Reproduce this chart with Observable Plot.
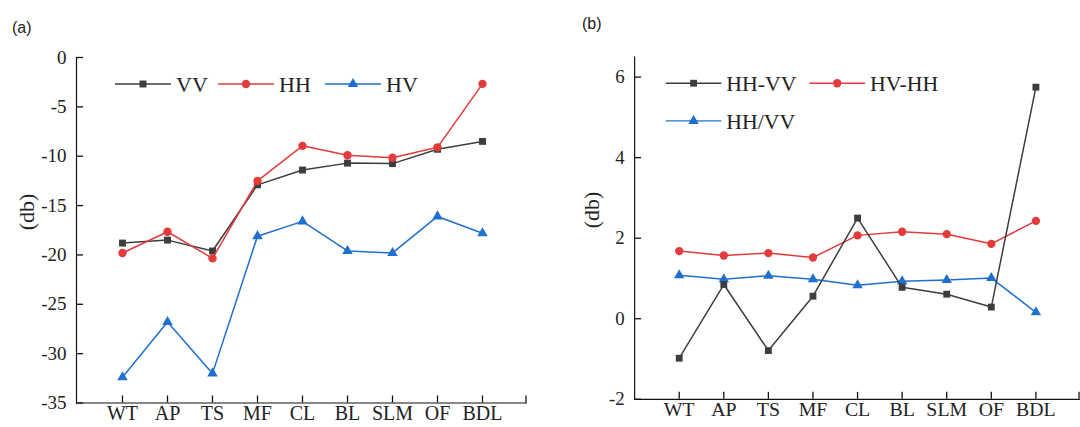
<!DOCTYPE html>
<html><head><meta charset="utf-8">
<script src="https://cdn.jsdelivr.net/npm/d3@7"></script>
<script src="https://cdn.jsdelivr.net/npm/@observablehq/plot@0.6"></script>
<style>
body{margin:0;background:#fff;}
#wrap{position:relative;width:1080px;height:427px;overflow:hidden;background:#fff;}
#a,#b{position:absolute;top:0;line-height:0;}
#a{left:0}#b{left:540px}
svg{display:block}
.plab{position:absolute;font-family:"Liberation Sans",Arial,sans-serif;font-size:16px;color:#222;line-height:1}
</style></head><body>
<div id="wrap"><div id="a"></div><div id="b"></div>
<div class="plab" style="left:12px;top:20px">(a)</div>
<div class="plab" style="left:582px;top:16px">(b)</div></div>
<script>
const cats = ["WT","AP","TS","MF","CL","BL","SLM","OF","BDL"];
// panel (a)
const vv = [-18.8,-18.5,-19.6,-12.9,-11.4,-10.7,-10.75,-9.3,-8.5];
const hh = [-19.8,-17.65,-20.35,-12.5,-8.95,-9.9,-10.15,-9.1,-2.67];
const hv = [-32.4,-26.8,-32.0,-18.1,-16.6,-19.6,-19.8,-16.1,-17.8];
const ticksA = [-35,-30,-25,-20,-15,-10,-5,0];
// panel (b)
const hhMinusVv = [-0.98,0.85,-0.79,0.56,2.5,0.78,0.61,0.29,5.75];
const hvMinusHh = [1.68,1.57,1.63,1.52,2.07,2.16,2.1,1.86,2.43];
const hhOverVv = [1.08,0.98,1.07,0.98,0.83,0.93,0.96,1.01,0.16];
const ticksB = [-2,0,2,4,6];
const yLabel = "(db)";

const BLACK = "#3d3d3d", RED = "#e23b3b", BLUE = "#1f6fce", AX = "#111";
const FONT = "'Liberation Serif', 'Times New Roman', serif";
const H = 427, MT = 57, MB = 24.5;
const TICK = 7;

function panel(cfg) {
  const rows = cfg.series.flatMap(s => cats.map((c, i) => ({cat: c, value: s.values[i], name: s.name})));
  const frameW = cfg.width - cfg.marginLeft - cfg.marginRight, frameH = H - MT - MB;
  const marks = [
    Plot.frame({anchor: "left", stroke: AX, strokeWidth: 1.2}),
    Plot.ruleY([cfg.yDomain[0]], {stroke: AX, strokeWidth: 1.2}),
    // inward ticks
    Plot.tickX(cats, {x: d => d, insetTop: frameH - TICK, stroke: AX, strokeWidth: 1.3}),
    Plot.tickY(cfg.yTicks, {y: d => d, insetRight: frameW - TICK, stroke: AX, strokeWidth: 1.3}),
    // tick labels
    Plot.axisY({ticks: cfg.yTicks, tickSize: 0, tickPadding: 10, label: null, fill: "#222", fontSize: 19,
      tickFormat: d => String(d)}),
    Plot.axisX({tickSize: 0, tickPadding: 3, label: null, fill: "#222", fontSize: 20}),
    Plot.text([yLabel], {text: d => d, frameAnchor: "left", rotate: -90, dx: cfg.labelDx, fontSize: 22, fill: "#222"})
  ];
  for (const s of cfg.series) {
    const d = rows.filter(r => r.name === s.name);
    marks.push(Plot.line(d, {x: "cat", y: "value", stroke: s.color, strokeWidth: 1.5}));
    marks.push(Plot.dot(d, {x: "cat", y: "value", fill: s.color, stroke: "none", symbol: s.symbol, r: s.r}));
  }
  const svg = Plot.plot({
    width: cfg.width, height: H,
    marginLeft: cfg.marginLeft, marginRight: cfg.marginRight, marginTop: MT, marginBottom: MB,
    x: {type: "point", domain: cats, padding: 1},
    y: {domain: cfg.yDomain},
    style: {fontFamily: FONT, fontSize: "19px", background: "transparent", overflow: "visible"},
    marks
  });
  const g = d3.select(svg).append("g").attr("text-anchor", "start");
  // end tick at right end of x axis
  const xr = cfg.width - cfg.marginRight - 1, yb = H - MB;
  g.append("path").attr("d", `M${xr},${yb - TICK}V${yb}`)
    .attr("stroke", AX).attr("stroke-width", 1.3).attr("fill", "none");
  // legend
  for (const it of cfg.legend) {
    const s = cfg.series.find(q => q.name === it.name);
    g.append("line").attr("x1", it.x).attr("x2", it.x + 56).attr("y1", it.y).attr("y2", it.y)
      .attr("stroke", s.color).attr("stroke-width", 1.5);
    const sym = {square: d3.symbolSquare, circle: d3.symbolCircle, triangle: d3.symbolTriangle}[s.symbol];
    g.append("path").attr("d", d3.symbol(sym, Math.PI * s.r * s.r)())
      .attr("transform", `translate(${it.x + 28},${it.y})`).attr("fill", s.color);
    g.append("text").attr("x", it.x + 61).attr("y", it.y).attr("dy", "0.35em")
      .attr("text-anchor", "start")
      .attr("font-family", FONT).attr("font-size", 22).attr("fill", "#222").text(it.name);
  }
  return svg;
}

document.getElementById("a").append(panel({
  width: 540, marginLeft: 76, marginRight: 13, yDomain: [-35, 0], yTicks: ticksA, labelDx: -50,
  series: [
    {name: "VV", values: vv, color: BLACK, symbol: "square", r: 3.9},
    {name: "HH", values: hh, color: RED, symbol: "circle", r: 4.2},
    {name: "HV", values: hv, color: BLUE, symbol: "triangle", r: 3.9}
  ],
  legend: [{name: "VV", x: 115, y: 84}, {name: "HH", x: 218, y: 84}, {name: "HV", x: 325, y: 84}]
}));

document.getElementById("b").append(panel({
  width: 545, marginLeft: 95, marginRight: 0, yDomain: [-2, 6.5], yTicks: ticksB, labelDx: -43,
  series: [
    {name: "HV-HH", values: hvMinusHh, color: RED, symbol: "circle", r: 4.2},
    {name: "HH/VV", values: hhOverVv, color: BLUE, symbol: "triangle", r: 3.9},
    {name: "HH-VV", values: hhMinusVv, color: BLACK, symbol: "square", r: 3.9}
  ],
  legend: [{name: "HH-VV", x: 127, y: 84}, {name: "HV-HH", x: 272, y: 84}, {name: "HH/VV", x: 127, y: 122}]
}));
</script></body></html>
